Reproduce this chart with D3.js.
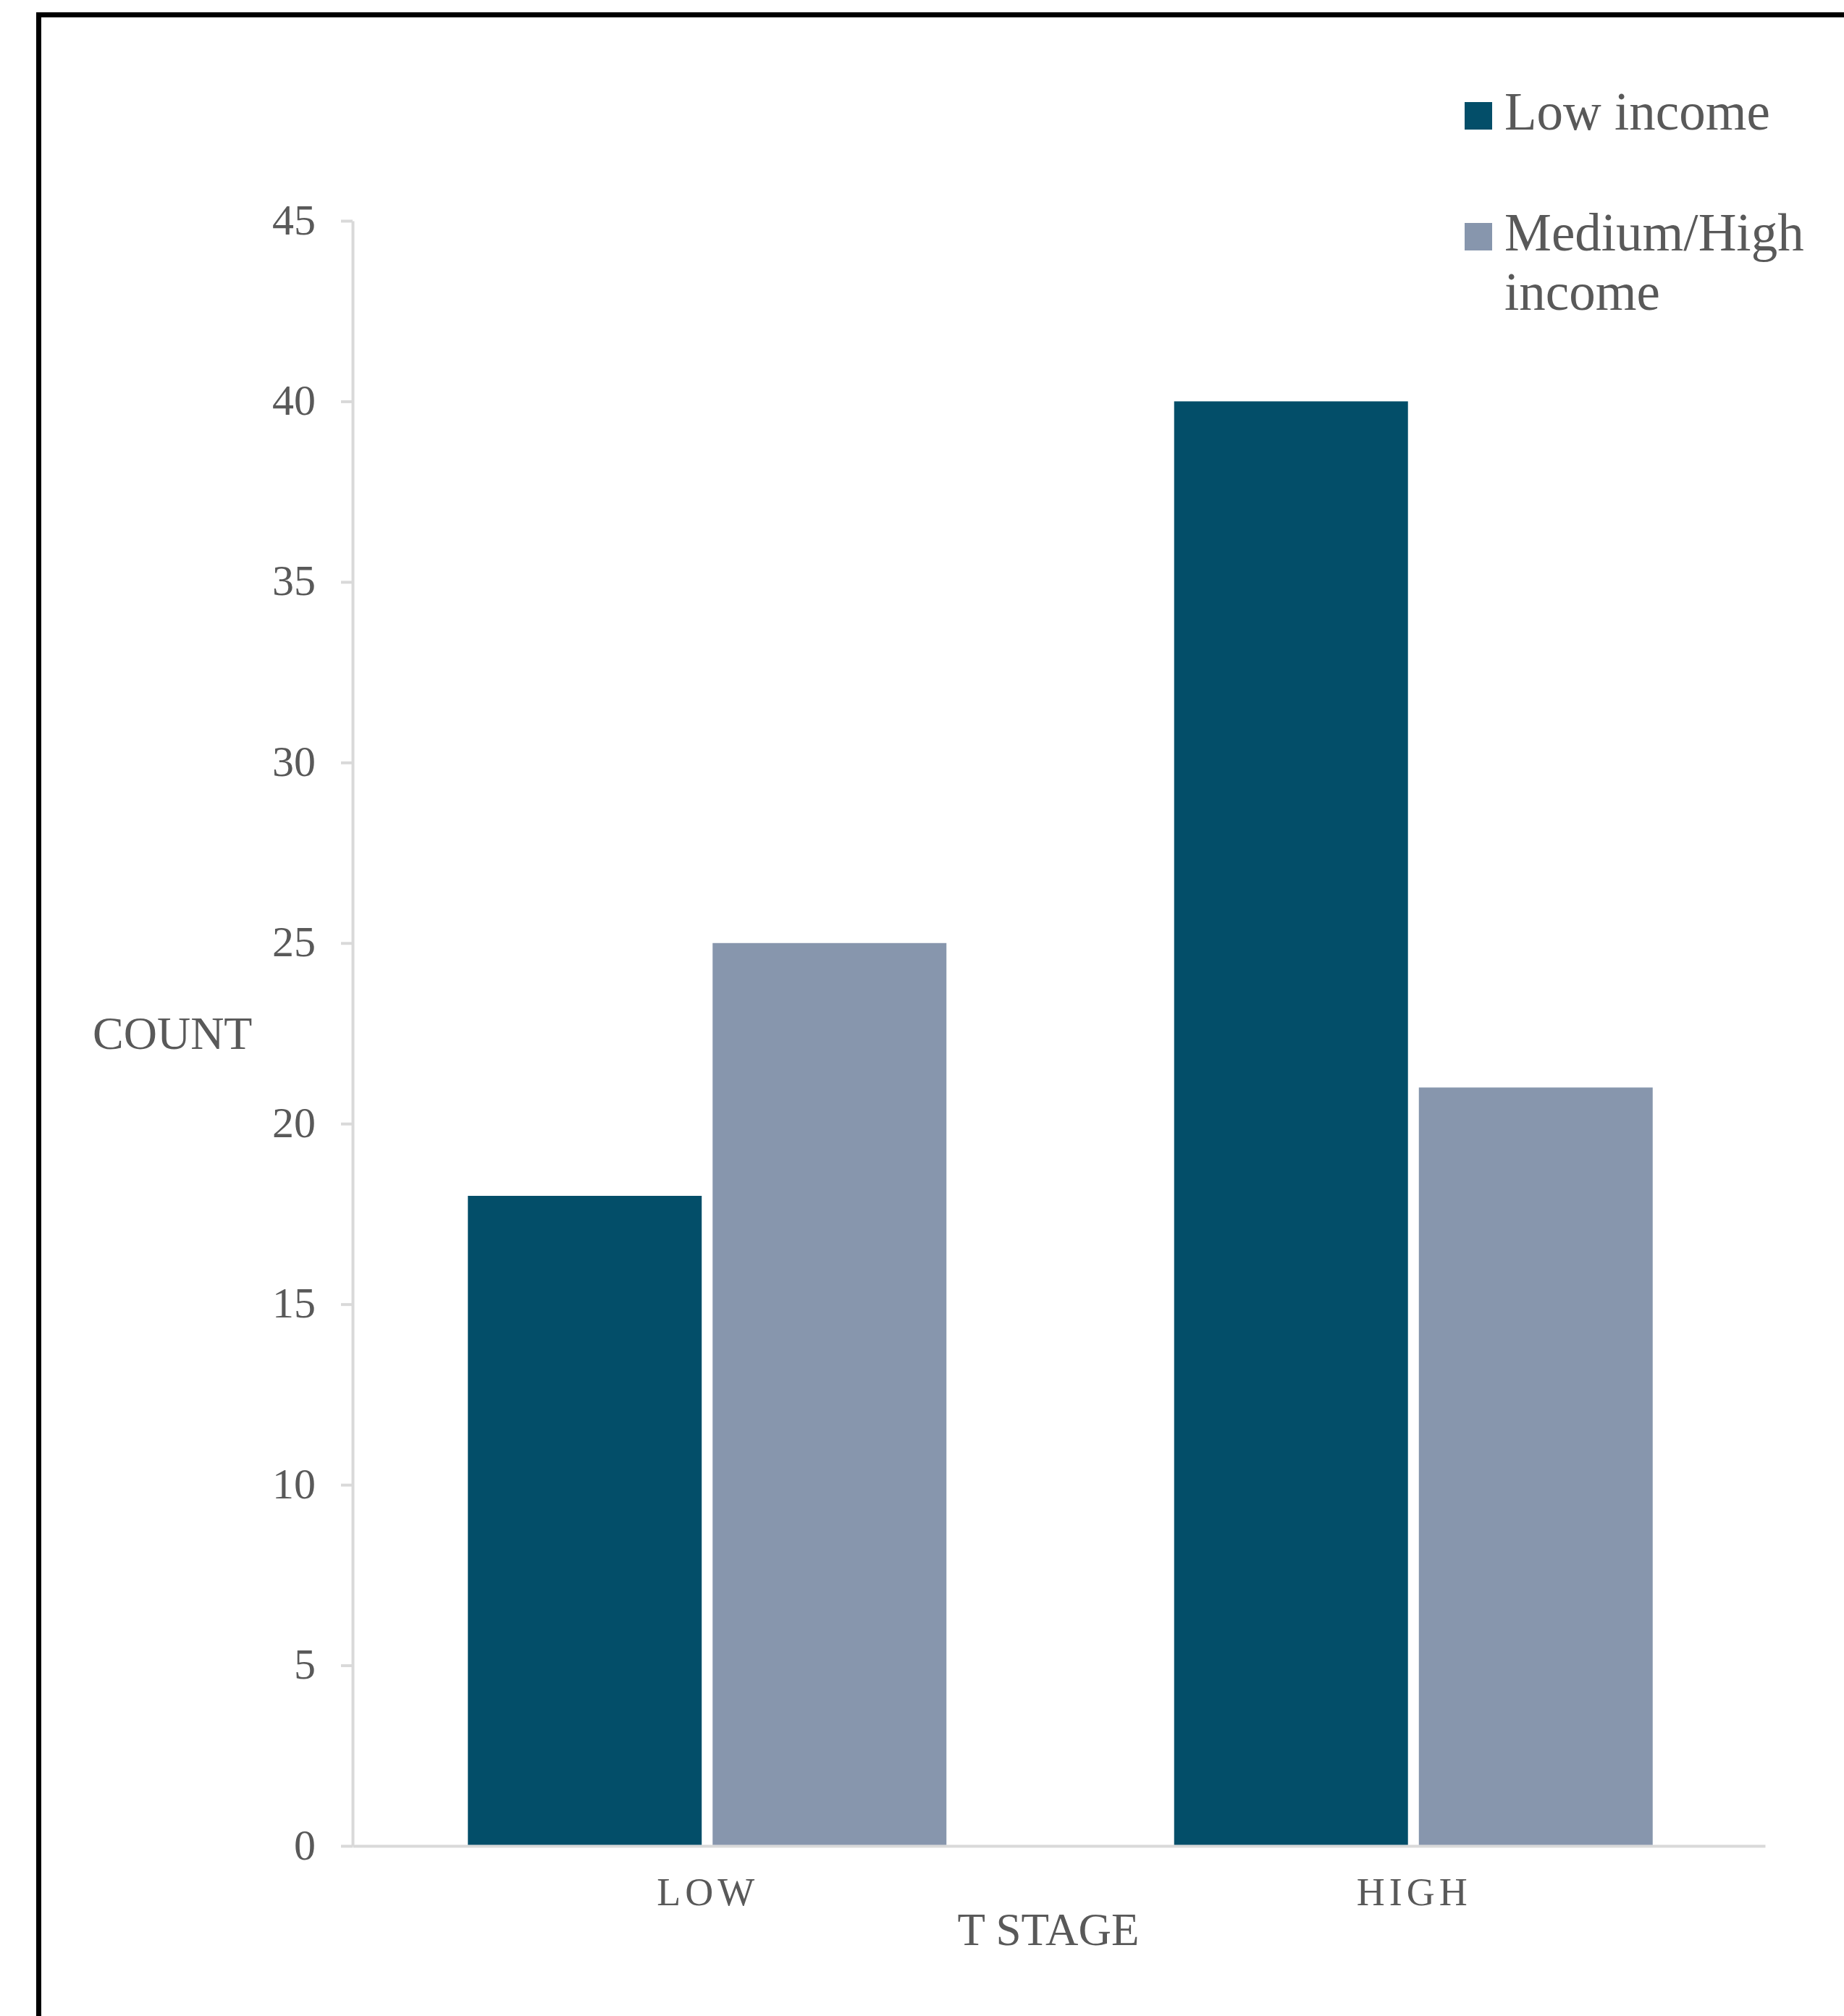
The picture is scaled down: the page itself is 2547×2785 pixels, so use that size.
<!DOCTYPE html>
<html>
<head>
<meta charset="utf-8">
<script src="https://cdn.jsdelivr.net/npm/d3@7"></script>
<style>
  body { margin: 0; background: #fff; }
  svg { display: block; font-family: 'Liberation Serif', 'DejaVu Serif', serif; }
</style>
</head>
<body>
<div id="chart"></div>
<script>
// categorias e series - categories and series
var categories = ['LOW', 'HIGH'];
var series = ['Low income', 'Medium/High income'];
var lowIncome = [18, 40];
var medHighIncome = [25, 21];
var yTicks = [0, 5, 10, 15, 20, 25, 30, 35, 40, 45];

var colors = ['#034e69', '#8796ad'];
var textColor = '#595959';
var axisColor = '#d9d9d9';

var W = 2547, H = 2785;

var svg = d3.select('#chart')
  .append('svg')
  .attr('width', W)
  .attr('height', H);

// moldura preta - black frame (cut off at right and bottom)
svg.append('rect')
  .attr('x', 53.5)
  .attr('y', 20.5)
  .attr('width', 2600)
  .attr('height', 2900)
  .attr('fill', 'none')
  .attr('stroke', '#000')
  .attr('stroke-width', 7);

var x0 = d3.scaleBand()
  .domain(categories)
  .range([487, 2438])
  .padding(0);

var bw = x0.bandwidth();
var groupW = 661;

var x1 = d3.scaleBand()
  .domain(series)
  .range([(bw - groupW) / 2 + 2, (bw + groupW) / 2 + 2])
  .paddingInner(0.0445)
  .paddingOuter(0);

var y = d3.scaleLinear()
  .domain([0, 45])
  .range([2550, 305]);

var rows = categories.map(function(c, i) {
  return {cat: c, vals: [
    {s: series[0], v: lowIncome[i]},
    {s: series[1], v: medHighIncome[i]}
  ]};
});

// eixo y - y axis
var yAxis = svg.append('g')
  .attr('transform', 'translate(487,0)')
  .call(d3.axisLeft(y).tickValues(yTicks).tickSize(16).tickSizeOuter(0).tickPadding(0));

yAxis.select('.domain')
  .attr('stroke', axisColor)
  .attr('stroke-width', 4);

yAxis.selectAll('.tick line')
  .attr('stroke', axisColor)
  .attr('stroke-width', 4);

yAxis.selectAll('.tick text')
  .attr('x', -51)
  .attr('dy', '0.3em')
  .attr('fill', textColor)
  .style('font-family', "'Liberation Serif', serif")
  .style('font-size', '60px');

// barras - bars
var g = svg.selectAll('g.cat')
  .data(rows)
  .enter()
  .append('g')
  .attr('class', 'cat')
  .attr('transform', function(d) { return 'translate(' + x0(d.cat) + ',0)'; });

g.selectAll('rect')
  .data(function(d) { return d.vals; })
  .enter()
  .append('rect')
  .attr('x', function(d) { return x1(d.s); })
  .attr('width', x1.bandwidth())
  .attr('y', function(d) { return y(d.v); })
  .attr('height', function(d) { return y(0) - y(d.v); })
  .attr('fill', function(d, i) { return colors[i]; });

// eixo x - x axis
var xAxis = svg.append('g')
  .attr('transform', 'translate(0,' + y(0) + ')')
  .call(d3.axisBottom(x0).tickSize(0).tickSizeOuter(0));

xAxis.select('.domain')
  .attr('stroke', axisColor)
  .attr('stroke-width', 4);

xAxis.selectAll('.tick text')
  .attr('y', 82)
  .attr('dy', 0)
  .attr('dx', 3)
  .attr('fill', textColor)
  .style('font-family', "'Liberation Serif', serif")
  .style('font-size', '54px')
  .style('letter-spacing', '6px');

// titulos dos eixos - axis titles
svg.append('text')
  .text('COUNT')
  .attr('x', 128)
  .attr('y', 1449)
  .attr('fill', textColor)
  .style('font-size', '64px');

svg.append('text')
  .text('T STAGE')
  .attr('x', 1448)
  .attr('y', 2687)
  .attr('text-anchor', 'middle')
  .attr('fill', textColor)
  .style('font-size', '63px');

// legenda - legend
var legend = [
  {label: ['Low income'], color: colors[0], y: 179},
  {label: ['Medium/High', 'income'], color: colors[1], y: 346}
];

var lg = svg.selectAll('g.legend')
  .data(legend)
  .enter()
  .append('g')
  .attr('class', 'legend');

lg.append('rect')
  .attr('x', 2023)
  .attr('y', function(d) { return d.y - 38; })
  .attr('width', 38)
  .attr('height', 38)
  .attr('fill', function(d) { return d.color; });

lg.append('text')
  .attr('fill', textColor)
  .style('font-size', '73px')
  .each(function(d) {
    var t = d3.select(this);
    d.label.forEach(function(line, i) {
      t.append('tspan')
        .attr('x', 2078)
        .attr('y', d.y + i * 82)
        .text(line);
    });
  });
</script>
</body>
</html>
